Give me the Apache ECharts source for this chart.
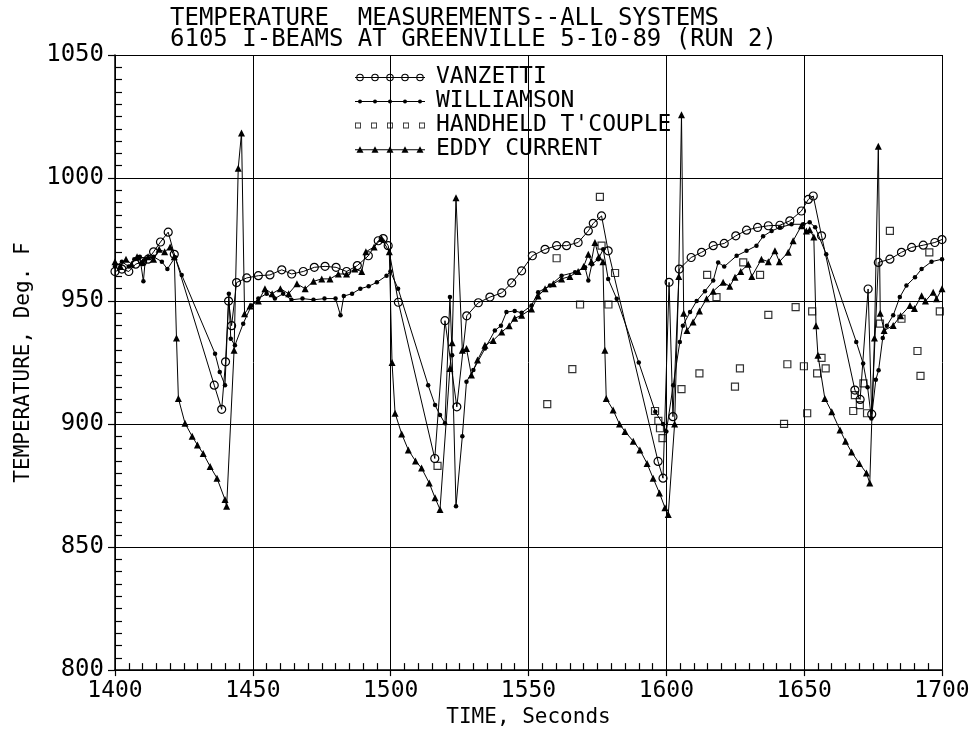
<!DOCTYPE html>
<html>
<head>
<meta charset="utf-8">
<script src="https://cdn.jsdelivr.net/npm/echarts@6/dist/echarts.min.js"></script>
<style>
  html, body { margin: 0; padding: 0; background: #fff; }
  #chart { width: 973px; height: 733px; }
</style>
</head>
<body>
<div id="chart"></div>
<script>
// time (s) and temperature (deg F)
const vanzettiT = [1400, 1402.5, 1405, 1407.5, 1410, 1412, 1414, 1416.5, 1419.3, 1421.5, 1436, 1438.7, 1440.1, 1441.2, 1442.3, 1444.1, 1447.8, 1452, 1456.2, 1460.5, 1464.1, 1468.3, 1472.3, 1476.2, 1480.2, 1484, 1487.9, 1491.9, 1495.5, 1497.3, 1499.1, 1502.8, 1516, 1519.7, 1524, 1527.6, 1531.8, 1536, 1540.3, 1543.9, 1547.5, 1551.4, 1556, 1560.2, 1563.8, 1568, 1571.7, 1573.5, 1576.5, 1578.9, 1597, 1598.8, 1601, 1602.4, 1604.7, 1609, 1612.8, 1617, 1621, 1625.2, 1629.1, 1633.1, 1637, 1641.2, 1644.8, 1649, 1651.5, 1653.3, 1656.3, 1668.4, 1670.3, 1673.2, 1674.5, 1676.9, 1681.1, 1685.3, 1689, 1693.2, 1697.4, 1700];
const vanzettiV = [962, 963, 962, 965, 966, 967, 970, 974, 978, 969, 915.8, 906, 925.3, 950, 940, 957.5, 959.4, 960.3, 960.6, 962.7, 961, 962, 963.7, 964.1, 963.7, 962, 964.4, 968.4, 974.5, 975.4, 972.5, 949.5, 886, 942, 907, 944, 949.3, 951.6, 953.3, 957.4, 962.3, 968.4, 971, 972.5, 972.5, 973.8, 978.5, 981.6, 984.6, 970.4, 884.8, 878, 957.6, 903, 963, 967.7, 969.8, 972.5, 973.4, 976.5, 978.8, 979.9, 980.6, 980.8, 982.6, 986.6, 991.3, 992.7, 976.5, 913.8, 910, 954.9, 904, 965.7, 967, 969.8, 971.8, 972.7, 973.8, 975];

const williamsonT = [1400, 1402.5, 1405, 1407, 1409, 1410.3, 1411, 1414, 1417, 1419, 1421.8, 1424.2, 1436.3, 1438, 1439.9, 1441.3, 1442, 1443.5, 1446.5, 1449.5, 1452, 1455, 1458, 1461, 1464, 1468, 1472, 1476, 1480, 1481.8, 1483, 1486, 1489, 1492, 1495, 1498.5, 1499.9, 1502.7, 1513.6, 1516.1, 1517.9, 1519.7, 1521.5, 1522.3, 1523.7, 1526, 1527.5, 1530, 1534.2, 1537.8, 1540, 1542, 1545, 1547.5, 1551.1, 1553.5, 1557.8, 1562, 1566.9, 1570.5, 1571.7, 1573, 1575.3, 1577.1, 1578.9, 1582, 1590, 1596, 1598.8, 1600, 1602.5, 1604.9, 1606, 1608.6, 1611, 1614, 1617, 1618.8, 1621, 1625.5, 1629.1, 1632.7, 1635.1, 1638.2, 1641.2, 1645.4, 1649.7, 1652, 1654, 1658, 1668.9, 1671.4, 1673, 1674.4, 1676, 1677, 1678.5, 1680, 1682.3, 1684.7, 1687.1, 1690.2, 1692.6, 1696.2, 1700];
const williamsonV = [964, 966, 964, 967, 968, 958, 967, 968, 966, 963, 967.8, 960.6, 928.6, 921.2, 915.8, 953, 934.7, 932, 940.8, 948.2, 951, 953, 951, 953, 950.5, 951, 950.5, 951, 951, 944.2, 952, 953, 955, 956, 957.6, 960.3, 962, 955, 915.8, 907.7, 903.7, 900.3, 951.6, 928, 866.6, 895, 917.2, 922, 930.7, 938, 940, 945.5, 946, 945.2, 948.2, 953.6, 956.3, 960.3, 961.7, 963.7, 958.3, 965, 967, 971, 959, 950.9, 925, 905, 900, 897, 915.8, 933.4, 940, 945.5, 950, 954, 958.3, 965.7, 964, 968.4, 970.4, 972.5, 976.3, 978.5, 979.9, 981.2, 981.2, 982, 980, 969, 933.4, 924.6, 915, 902.3, 918, 921.9, 935, 940, 944.2, 951.6, 956.3, 959.7, 963, 966, 967];

const handheldT = [1517, 1556.8, 1560.2, 1565.9, 1568.7, 1575.9, 1576.5, 1579, 1581.4, 1595.9, 1597.1, 1597.7, 1598.6, 1605.5, 1612, 1614.8, 1618.2, 1624.9, 1626.7, 1627.9, 1634, 1637, 1642.7, 1643.9, 1646.9, 1649.9, 1651.1, 1652.9, 1654.7, 1656.3, 1657.8, 1667.8, 1668.4, 1670.2, 1671.5, 1672.8, 1677.5, 1681.1, 1685.3, 1691.1, 1692.2, 1695.4, 1699.2];
const handheldV = [883, 908.1, 967.4, 922.3, 948.6, 992.3, 972.5, 948.6, 961.4, 905.3, 901.3, 898.3, 894.3, 914.2, 920.6, 960.6, 951.6, 915.2, 922.6, 965.7, 960.6, 944.4, 900.1, 924.3, 947.5, 923.5, 904.4, 945.8, 920.6, 926.9, 922.6, 905.3, 911.8, 907.7, 916.5, 904.4, 940.8, 978.5, 942.8, 929.7, 919.6, 969.8, 945.8];

const eddyT = [1400, 1402, 1404, 1406, 1408, 1410, 1412, 1414, 1416, 1418, 1420, 1421.5, 1422.3, 1423, 1425.4, 1428, 1429.9, 1432, 1434.5, 1437, 1439.9, 1440.5, 1443.2, 1444.7, 1445.9, 1447, 1449, 1452, 1454.4, 1457, 1460, 1463, 1466, 1469, 1472, 1475, 1478, 1481, 1484, 1487, 1489.5, 1491, 1494, 1496.7, 1499.5, 1500.5, 1501.6, 1504, 1506.4, 1509, 1511.2, 1514, 1516.1, 1517.9, 1521.5, 1522.3, 1523.7, 1526, 1527.5, 1529.3, 1531.5, 1534.2, 1537.2, 1540.3, 1543, 1545, 1547.5, 1551.1, 1553.5, 1556, 1559, 1562, 1565, 1568, 1570, 1571.7, 1572.8, 1574.1, 1575.5, 1577, 1577.7, 1578.2, 1580.7, 1583, 1585, 1588, 1590.4, 1593, 1595.2, 1597.5, 1599.5, 1600.7, 1603, 1604.5, 1605.5, 1606.3, 1607.5, 1609.7, 1612, 1614.6, 1617, 1620.6, 1623, 1624.9, 1627, 1629.7, 1631, 1634.5, 1637, 1639.4, 1641, 1644.2, 1646, 1649, 1650.8, 1652, 1653.5, 1654.3, 1655, 1657.5, 1660, 1663, 1665, 1667.2, 1670, 1672.6, 1673.8, 1675.5, 1676.9, 1677.6, 1679, 1682.3, 1685, 1688.4, 1690, 1692.6, 1694, 1696.8, 1698, 1700];
const eddyV = [966, 964, 967, 965, 968, 966, 968, 967, 971, 970, 972, 968, 935, 910.4, 900.3, 895, 891.5, 888, 882.8, 878, 869.3, 866.6, 930, 1004, 1018.3, 944.8, 948, 950, 955, 953, 955, 953, 957, 955, 958, 959, 959, 961, 961, 963, 962, 970, 972, 975.4, 970, 925, 904.4, 896, 889.5, 885, 882.1, 876, 870, 865.3, 922.6, 933, 992, 930, 930.7, 919.9, 926, 932, 934, 937.4, 940, 943, 944.2, 946.8, 952, 955, 957, 959, 960, 962, 964, 969, 966, 973.8, 968, 966, 930, 910.4, 905.7, 900, 897, 893, 889.5, 884, 878, 872, 866, 863.2, 900, 960, 1025.7, 945, 938, 941.5, 946, 950.9, 954, 957.6, 956, 959.7, 962, 965, 960, 967, 966, 970.4, 966, 969.8, 974.5, 980.6, 978.5, 979, 976, 940, 928, 910.4, 905, 897.6, 893, 888.6, 884, 880.1, 876, 935, 1012.9, 945, 938, 940.1, 944, 948.2, 947, 952.2, 950, 953.6, 950.9, 955];

const xTicks = [1400, 1700, 50];
const yTicks = [800, 1050, 50];

// plotter-style lettering: fixed-pitch reads closest to the original
const FONT = 'DejaVu Sans Mono';
const pairs = (xs, ys) => xs.map((x, i) => [x, ys[i]]);

// legend samples: 5 markers along a short line, drawn as one path (140 x 20 units)
const ring = (cx, r) =>
  `M${cx - r} 10A${r} ${r} 0 1 1 ${cx + r} 10A${r} ${r} 0 1 1 ${cx - r} 10Z`;
const ringHole = (cx, r) =>
  `M${cx - r} 10A${r} ${r} 0 1 0 ${cx + r} 10A${r} ${r} 0 1 0 ${cx - r} 10Z`;
const bar = 'M0 9.2H140V10.8H0Z';
const iconVanzetti = 'path://' + bar + [10, 40, 70, 100, 130].map((c) => ring(c, 7.5) + ringHole(c, 5.3)).join('');
const iconWilliamson = 'path://' + bar + [10, 40, 70, 100, 130].map((c) => ring(c, 4)).join('');
const iconHandheld = 'path://' + [6, 38, 70, 102, 134].map((c) =>
  `M${c - 6} 4H${c + 6}V16H${c - 6}Z` + `M${c - 4.2} 5.8V14.2H${c + 4.2}V5.8Z`).join('');
const iconEddy = 'path://' + bar + [10, 40, 70, 100, 130].map((c) =>
  `M${c - 7} 16L${c} 3L${c + 7} 16Z`).join('');

const chart = echarts.init(document.getElementById('chart'));

const lineBase = {
  type: 'line',
  lineStyle: { color: '#000', width: 1 },
  emphasis: { disabled: true },
  animation: false,
};

chart.setOption({
  backgroundColor: '#fff',
  animation: false,
  textStyle: { fontFamily: FONT, color: '#000' },
  title: {
    text: 'TEMPERATURE  MEASUREMENTS--ALL SYSTEMS\n6105 I-BEAMS AT GREENVILLE 5-10-89 (RUN 2)',
    left: 170,
    top: 8,
    padding: 0,
    textStyle: { fontFamily: FONT, fontSize: 24, fontWeight: 'normal', color: '#000', lineHeight: 21 },
  },
  legend: {
    orient: 'vertical',
    left: 355,
    top: 66,
    itemWidth: 70,
    itemHeight: 10,
    itemGap: 1,
    selectedMode: false,
    padding: 0,
    itemStyle: { color: '#000', borderWidth: 0 },
    textStyle: { fontFamily: FONT, fontSize: 23, color: '#000', lineHeight: 20, padding: [0, 0, 0, 6] },
    data: [
      { name: 'VANZETTI', icon: iconVanzetti },
      { name: 'WILLIAMSON', icon: iconWilliamson },
      { name: "HANDHELD T'COUPLE", icon: iconHandheld },
      { name: 'EDDY CURRENT', icon: iconEddy },
    ],
  },
  grid: { left: 115, right: 31, top: 55, bottom: 60 },
  xAxis: {
    type: 'value',
    min: xTicks[0],
    max: xTicks[1],
    interval: xTicks[2],
    name: 'TIME, Seconds',
    nameLocation: 'middle',
    nameGap: 36,
    nameTextStyle: { fontFamily: FONT, fontSize: 21, color: '#000' },
    axisLine: { lineStyle: { color: '#000', width: 1.5 } },
    axisTick: { show: true, inside: false, length: 6, lineStyle: { color: '#000', width: 1.2 } },
    minorTick: { show: true, splitNumber: 10, length: -7, lineStyle: { color: '#000', width: 1.2 } },
    axisLabel: { fontFamily: FONT, fontSize: 23, color: '#000', margin: 9, formatter: (v) => String(v) },
    splitLine: { show: true, lineStyle: { color: '#000', width: 1 } },
  },
  yAxis: {
    type: 'value',
    min: yTicks[0],
    max: yTicks[1],
    interval: yTicks[2],
    name: 'TEMPERATURE, Deg. F',
    nameLocation: 'middle',
    nameGap: 81,
    nameTextStyle: { fontFamily: FONT, fontSize: 21, color: '#000' },
    axisLine: { show: true, lineStyle: { color: '#000', width: 1.5 } },
    axisTick: { show: true, inside: false, length: 7, lineStyle: { color: '#000', width: 1.2 } },
    minorTick: { show: true, splitNumber: 10, length: -7, lineStyle: { color: '#000', width: 1.2 } },
    axisLabel: { fontFamily: FONT, fontSize: 24, color: '#000', margin: 11, formatter: (v) => String(v) },
    splitLine: { show: true, lineStyle: { color: '#000', width: 1 } },
  },
  series: [
    {
      ...lineBase,
      name: 'VANZETTI',
      symbol: 'circle',
      symbolSize: 8,
      itemStyle: { color: 'rgba(255,255,255,0)', borderColor: '#000', borderWidth: 1.2 },
      data: pairs(vanzettiT, vanzettiV),
    },
    {
      ...lineBase,
      name: 'WILLIAMSON',
      symbol: 'circle',
      symbolSize: 4.5,
      itemStyle: { color: '#000' },
      data: pairs(williamsonT, williamsonV),
    },
    {
      type: 'scatter',
      name: "HANDHELD T'COUPLE",
      symbol: 'rect',
      symbolSize: 7,
      itemStyle: { color: 'rgba(255,255,255,0)', borderColor: '#000', borderWidth: 1.2 },
      emphasis: { disabled: true },
      data: pairs(handheldT, handheldV),
    },
    {
      ...lineBase,
      name: 'EDDY CURRENT',
      symbol: 'triangle',
      symbolSize: 7,
      itemStyle: { color: '#000' },
      data: pairs(eddyT, eddyV),
    },
  ],
});
</script>
</body>
</html>
